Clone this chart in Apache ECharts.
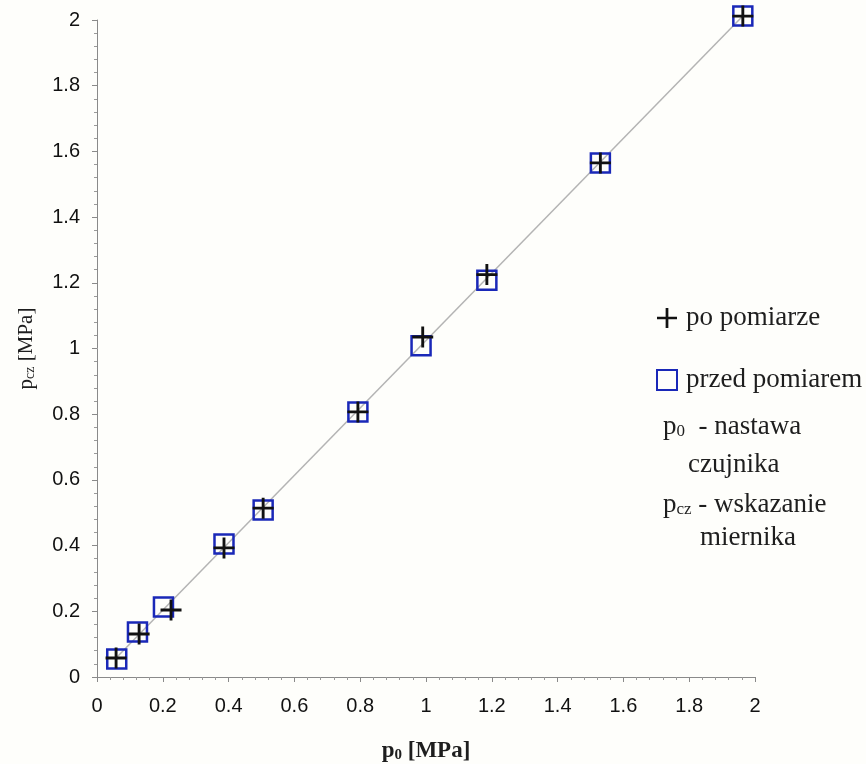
<!DOCTYPE html>
<html>
<head>
<meta charset="utf-8">
<script src="https://cdn.jsdelivr.net/npm/echarts@6/dist/echarts.min.js"></script>
<style>
html, body { margin: 0; padding: 0; background: #fefefb; }
#main { width: 866px; height: 764px; }
</style>
</head>
<body>
<div id="main"></div>
<script>
// pomiary: p0 (nastawa) i pcz (wskazanie)
var przedX = [0.06, 0.123, 0.202, 0.386, 0.505, 0.793, 0.985, 1.185, 1.53, 1.963];
var przedY = [0.055, 0.137, 0.213, 0.405, 0.508, 0.807, 1.008, 1.208, 1.565, 2.012];
var poX = [0.058, 0.128, 0.225, 0.386, 0.505, 0.793, 0.99, 1.185, 1.53, 1.963];
var poY = [0.058, 0.131, 0.204, 0.393, 0.514, 0.807, 1.035, 1.225, 1.565, 2.012];
// linia trendu
var liniaX = [0.055, 1.963];
var liniaY = [0.055, 2.012];

var PLUS = 'path://M9.5,0H12.5V9.5H22V12.5H12.5V22H9.5V12.5H0V9.5H9.5Z';
var BLUE = '#1a28b8';
var serif = 'Liberation Serif';

function pairs(xs, ys){
	var out = [];
	for (var i = 0; i < xs.length; i++) {
		out.push([xs[i], ys[i]]);
	}
	return out;
}

// opis z indeksem dolnym
function subText(x, y, main, sub, rest){
	return {
		type: 'text', x: x, y: y,
		style: {
			text: '{p|' + main + '}{s|' + sub + '}{p|' + rest + '}',
			verticalAlign: 'middle',
			rich: {
				p: { fontFamily: serif, fontSize: 27, fill: '#1e1e1e' },
				s: { fontFamily: serif, fontSize: 17, fill: '#1e1e1e', verticalAlign: 'bottom', padding: [10, 0, 0, 0] }
			}
		}
	};
}

function plainText(x, y, txt){
	return {
		type: 'text', x: x, y: y,
		style: { text: txt, fontFamily: serif, fontSize: 27, fill: '#1e1e1e', verticalAlign: 'middle' }
	};
}

var myChart = echarts.init(document.getElementById('main'));

var axisCommon = {
	type: 'value',
	min: 0,
	max: 2,
	interval: 0.2,
	splitLine: { show: false },
	axisLine: { lineStyle: { color: '#8a8a8a', width: 1 } },
	axisTick: { show: true, length: 5, lineStyle: { color: '#8a8a8a' } },
	minorTick: { show: true, splitNumber: 5, length: 3, lineStyle: { color: '#9a9a9a' } },
	axisLabel: {
		color: '#111',
		fontFamily: 'Liberation Sans',
		fontSize: 20,
		formatter: function(v){ return String(+v.toFixed(1)); }
	}
};

var option = {
	backgroundColor: '#fefefb',
	animation: false,
	grid: { left: 97, right: 111, top: 20, bottom: 87, outerBoundsMode: 'none', containLabel: false },
	xAxis: echarts.util.merge({
		name: '{p|p}{s|0}{p| [MPa]}',
		nameLocation: 'middle',
		nameGap: 62,
		nameTextStyle: {
			rich: {
				p: { fontFamily: serif, fontSize: 23, fontWeight: 'bold', color: '#1e1e1e' },
				s: { fontFamily: serif, fontSize: 15, fontWeight: 'bold', color: '#1e1e1e', verticalAlign: 'bottom', padding: [9, 0, 0, 0] }
			}
		},
		axisLabel: { margin: 19 }
	}, axisCommon, false),
	yAxis: echarts.util.merge({
		name: '{p|p}{s|cz}{p| [MPa]}',
		nameLocation: 'middle',
		nameGap: 60,
		nameRotate: 90,
		nameTextStyle: {
			rich: {
				p: { fontFamily: serif, fontSize: 21, color: '#1e1e1e' },
				s: { fontFamily: serif, fontSize: 14, color: '#1e1e1e', verticalAlign: 'bottom', padding: [8, 0, 0, 0] }
			}
		},
		axisLabel: { margin: 17 }
	}, axisCommon, false),
	legend: {
		orient: 'vertical',
		left: 651,
		top: 298,
		itemGap: 32,
		itemWidth: 20,
		itemHeight: 20,
		data: [
			{ name: 'po pomiarze', icon: PLUS, itemStyle: { color: '#111' } },
			{ name: 'przed pomiarem', icon: 'rect', itemStyle: { color: 'rgba(0,0,0,0)', borderColor: BLUE, borderWidth: 2 } }
		],
		textStyle: { fontFamily: serif, fontSize: 27, lineHeight: 30, color: '#1e1e1e', padding: [0, 0, 0, 4] }
	},
	graphic: [
		subText(663, 427, 'p', '0', '  - nastawa'),
		plainText(688, 465, 'czujnika'),
		subText(663, 505, 'p', 'cz', ' - wskazanie'),
		plainText(700, 538, 'miernika')
	],
	series: [
		{
			name: 'linia',
			type: 'line',
			data: pairs(liniaX, liniaY),
			symbol: 'none',
			clip: false,
			lineStyle: { color: '#b4b4b4', width: 1.5 },
			silent: true,
			z: 1
		},
		{
			name: 'przed pomiarem',
			type: 'scatter',
			data: pairs(przedX, przedY),
			symbol: 'rect',
			symbolSize: 19,
			clip: false,
			itemStyle: { color: 'rgba(0,0,0,0)', borderColor: BLUE, borderWidth: 2.5, opacity: 1 },
			z: 2
		},
		{
			name: 'po pomiarze',
			type: 'scatter',
			data: pairs(poX, poY),
			symbol: PLUS,
			symbolSize: 21,
			clip: false,
			itemStyle: { color: '#111', opacity: 1 },
			z: 3
		}
	]
};

myChart.setOption(option);
</script>
</body>
</html>
